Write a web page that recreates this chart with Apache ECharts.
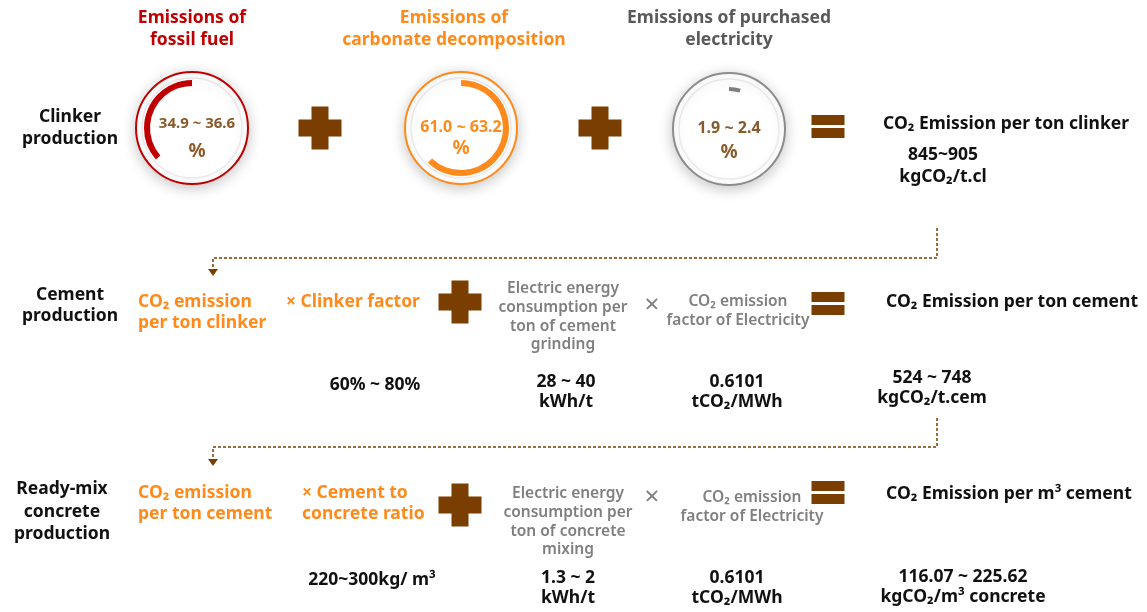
<!DOCTYPE html>
<html><head><meta charset="utf-8">
<script src="https://cdn.jsdelivr.net/npm/echarts@6/dist/echarts.min.js"></script>
<style>html,body{margin:0;padding:0;background:#fff}#c{width:1147px;height:612px}</style>
</head><body><div id="c"></div>
<script>
// ---- data ----
const stageLabels = ['Clinker\nproduction', 'Cement\nproduction', 'Ready-mix\nconcrete\nproduction'];
const sourceTitles = ['Emissions of\nfossil fuel', 'Emissions of\ncarbonate decomposition', 'Emissions of purchased\nelectricity'];
const shareRanges = ['34.9 ~ 36.6', '61.0 ~ 63.2', '1.9 ~ 2.4'];
const shareValues = [36.4, 62.1, 4.5];
const shareClockwise = [false, true, true];
const clinkerResult = ['CO\u2082 Emission per ton clinker', '845~905\nkgCO\u2082/t.cl'];
const cementTerms = ['CO\u2082 emission\nper ton clinker', '\u00d7 Clinker factor', 'Electric energy\nconsumption per\nton of cement\ngrinding', 'CO\u2082 emission\nfactor of Electricity', 'CO\u2082 Emission per ton cement'];
const cementValues = ['60% ~ 80%', '28 ~ 40\nkWh/t', '0.6101\ntCO\u2082/MWh', '524 ~ 748\nkgCO\u2082/t.cem'];
const concreteTerms = ['CO\u2082 emission\nper ton cement', '\u00d7 Cement to\nconcrete ratio', 'Electric energy\nconsumption per\nton of concrete\nmixing', 'CO\u2082 emission\nfactor of Electricity', 'CO\u2082 Emission per m\u00b3 cement'];
const concreteValues = ['220~300kg/ m\u00b3', '1.3 ~ 2\nkWh/t', '0.6101\ntCO\u2082/MWh', '116.07 ~ 225.62\nkgCO\u2082/m\u00b3 concrete'];

// ---- styling / layout ----
const FONT = '"Noto Sans", "Open Sans", sans-serif';
const RED = '#C00000', ORANGE = '#FF8A1C', GRAY = '#7F7F7F', DGRAY = '#595959', BROWN = '#7A3E00', NUM = '#8A5A2A';
const circleColors = [RED, ORANGE, '#8C8C8C'];
const centerTextColors = [NUM, ORANGE, NUM];
const circleCenters = [[192, 128], [461, 128], [729, 129]];
const centerTextX = [197, 461, 729];
const centerTextY = [[124, 152], [127, 149], [128, 153]];
const R_OUT = 56;
const FS = 17.5, GS = 15.5;

const chart = echarts.init(document.getElementById('c'), null, {renderer: 'canvas'});
const g = [];
function txt(x, y, text, size, color, align, lh, weight) {
  g.push({type: 'text', z: 10, style: {x: x, y: y, text: text, fill: color, align: align || 'center', verticalAlign: 'middle',
    fontSize: size, fontFamily: FONT, fontWeight: weight || 'bold', lineHeight: lh || Math.round(size * 1.35)}});
}
function plus(cx, cy) {
  const s = 43, t = 17;
  g.push({type: 'rect', shape: {x: cx - s / 2, y: cy - t / 2, width: s, height: t}, style: {fill: BROWN}});
  g.push({type: 'rect', shape: {x: cx - t / 2, y: cy - s / 2, width: t, height: s}, style: {fill: BROWN}});
}
function equals(cx, cy) {
  g.push({type: 'rect', shape: {x: cx - 16.5, y: cy - 11, width: 33, height: 10}, style: {fill: BROWN}});
  g.push({type: 'rect', shape: {x: cx - 16.5, y: cy + 2, width: 33, height: 10}, style: {fill: BROWN}});
}
function connector(yTop, yMid, yArrow) {
  g.push({type: 'polyline', shape: {points: [[937, yTop], [937, yMid], [213, yMid], [213, yArrow - 6]]},
    style: {stroke: BROWN, lineWidth: 1.5, lineDash: [3, 2], fill: null}});
  g.push({type: 'polygon', shape: {points: [[208, yArrow - 7], [218, yArrow - 7], [213, yArrow]]}, style: {fill: BROWN}});
}

// circles
circleCenters.forEach(function (c, i) {
  g.push({type: 'circle', z: 0, shape: {cx: c[0], cy: c[1], r: R_OUT},
    style: {fill: '#fff', stroke: circleColors[i], lineWidth: 2, shadowBlur: 14, shadowColor: 'rgba(0,0,0,0.22)', shadowOffsetY: 3}});
  g.push({type: 'circle', z: 1, shape: {cx: c[0], cy: c[1], r: 50},
    style: {fill: null, stroke: 'rgba(0,0,0,0.07)', lineWidth: 1.5}});
  txt(centerTextX[i], centerTextY[i][0], shareRanges[i], i === 0 ? 15 : 16, centerTextColors[i], 'center', 18);
  txt(centerTextX[i], centerTextY[i][1], '%', 19, centerTextColors[i], 'center', 20);
  txt(c[0] + (i === 1 ? -7 : 0), 29, sourceTitles[i], FS, [RED, ORANGE, DGRAY][i], 'center', 22);
});

// row 1
txt(70, 128, stageLabels[0], FS, '#111', 'center', 22);
plus(320, 128); plus(600, 128); equals(828, 126);
txt(883, 124, clinkerResult[0], FS, '#111', 'left');
txt(943, 166, clinkerResult[1], FS, '#111', 'center', 22);
connector(228, 258, 276);

// row 2
txt(70, 306, stageLabels[1], FS, '#111', 'center', 21);
txt(138, 313, cementTerms[0], FS, ORANGE, 'left', 21);
txt(286, 302, cementTerms[1], FS, ORANGE, 'left');
plus(460, 302);
txt(563, 317, cementTerms[2], GS, GRAY, 'center', 18.7, 600);
txt(652, 306, '\u00d7', 26, GRAY, 'center', 26, 'normal');
txt(738, 311, cementTerms[3], GS, GRAY, 'center', 19, 600);
equals(828, 303);
txt(886, 302, cementTerms[4], FS, '#111', 'left');
txt(375, 385, cementValues[0], FS, '#111', 'center');
txt(566, 392, cementValues[1], FS, '#111', 'center', 20);
txt(737, 392, cementValues[2], FS, '#111', 'center', 20);
txt(932, 388, cementValues[3], FS, '#111', 'center', 20);
connector(418, 447, 466);

// row 3
txt(62, 512, stageLabels[2], FS, '#111', 'center', 22.5);
txt(138, 504, concreteTerms[0], FS, ORANGE, 'left', 21);
txt(302, 504, concreteTerms[1], FS, ORANGE, 'left', 21);
plus(460, 505);
txt(568, 522, concreteTerms[2], GS, GRAY, 'center', 18.7, 600);
txt(652, 498, '\u00d7', 26, GRAY, 'center', 26, 'normal');
txt(752, 507, concreteTerms[3], GS, GRAY, 'center', 19, 600);
equals(828, 492);
txt(886, 494, concreteTerms[4], FS, '#111', 'left');
txt(372, 580, concreteValues[0], FS, '#111', 'center');
txt(568, 588, concreteValues[1], FS, '#111', 'center', 20);
txt(737, 588, concreteValues[2], FS, '#111', 'center', 20);
txt(963, 587, concreteValues[3], FS, '#111', 'center', 20);

// arcs as pie series from shareValues
const series = shareValues.map(function (v, i) {
  return {
    type: 'pie', z: 5, silent: true, animation: false,
    center: circleCenters[i], radius: i === 2 ? [38, 42] : [42, 48], startAngle: 90, clockwise: shareClockwise[i],
    label: {show: false}, labelLine: {show: false}, emphasis: {disabled: true},
    data: [
      {value: v, itemStyle: {color: i === 2 ? '#7F7F7F' : circleColors[i]}},
      {value: 100 - v, itemStyle: {color: 'rgba(0,0,0,0)'}}
    ]
  };
});

chart.setOption({
  animation: false,
  backgroundColor: '#fff',
  graphic: {elements: g},
  series: series
});
</script></body></html>
